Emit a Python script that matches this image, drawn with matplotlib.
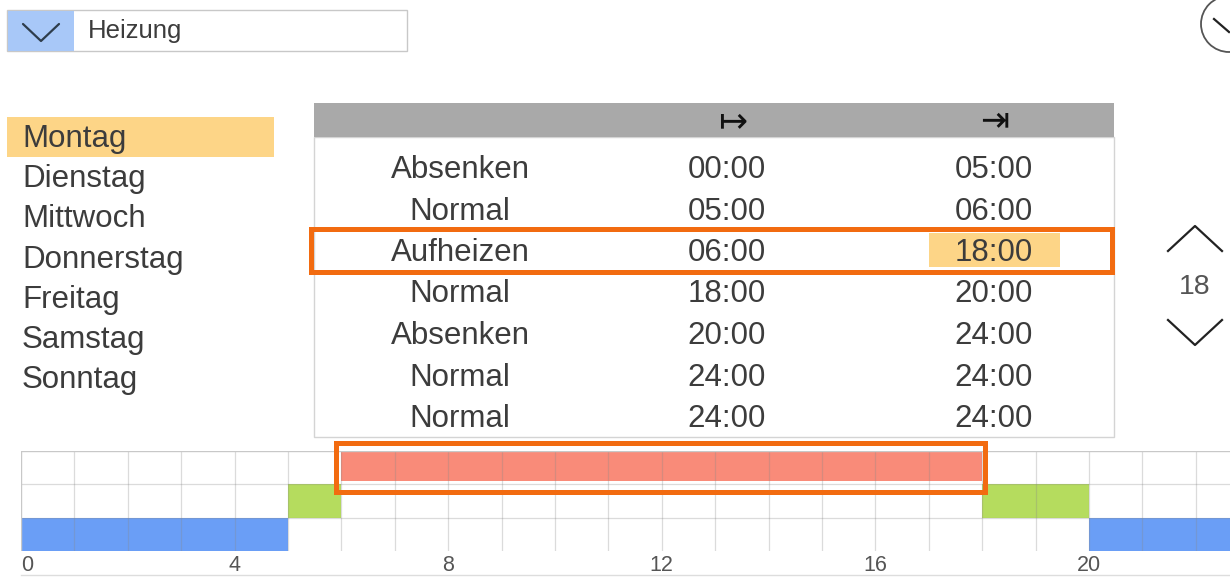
import matplotlib.pyplot as plt
from matplotlib.patches import Rectangle, Circle

# --- data ---
DAYS = ["Montag", "Dienstag", "Mittwoch", "Donnerstag", "Freitag", "Samstag", "Sonntag"]
SELECTED_DAY = 0

MODES = ["Absenken", "Normal", "Aufheizen", "Normal", "Absenken", "Normal", "Normal"]
STARTS = ["00:00", "05:00", "06:00", "18:00", "20:00", "24:00", "24:00"]
ENDS = ["05:00", "06:00", "18:00", "20:00", "24:00", "24:00", "24:00"]
SELECTED_ROW = 2

# timeline blocks: level (0 = Absenken, 1 = Normal, 2 = Aufheizen), start hour, end hour
BLOCK_LEVEL = [0, 1, 2, 1, 0]
BLOCK_START = [0, 5, 6, 18, 20]
BLOCK_END = [5, 6, 18, 20, 24]
LEVEL_COLORS = ["#6a9ef6", "#b5dc5e", "#f98b79"]

HOUR_TICKS = [0, 4, 8, 12, 16, 20]
SETPOINT = "18"
CIRCUIT = "Heizung"

TEXT = "#3c3c3c"
HILITE = "#fdd587"
ORANGE = "#f26b10"
FONT = ["Liberation Sans", "DejaVu Sans"]
plt.rcParams["font.family"] = FONT

W, H = 1230, 577
fig = plt.figure(figsize=(W / 100, H / 100), dpi=100)
ui = fig.add_axes([0, 0, 1, 1])
ui.set_xlim(0, W)
ui.set_ylim(H, 0)
ui.axis("off")

# dropdown
ui.add_patch(Rectangle((7, 10), 400, 41, fc="white", ec="#c8c8c8", lw=1))
ui.add_patch(Rectangle((7.5, 10.5), 66, 40, fc="#a8c8f8", ec="none"))
ui.plot([23, 41, 59], [24, 41, 24], color="#2e3d4c", lw=1.6, solid_capstyle="round")
ui.text(88, 38, CIRCUIT, fontsize=18.5, color=TEXT, va="baseline", ha="left")

# circle button top right (cut by the edge)
ui.add_patch(Circle((1229, 24), 28, fc="none", ec="#555555", lw=1.3))
ui.plot([1214, 1229], [19, 32], color="#222222", lw=1.6)

# day list
ui.add_patch(Rectangle((7, 117), 267, 40, fc=HILITE, ec="none"))
for i, d in enumerate(DAYS):
    ui.text(22, 147 + i * 40.2, d, fontsize=22.5, color=TEXT, va="baseline", ha="left")

# program table
ui.add_patch(Rectangle((314, 137), 800, 300, fc="white", ec="#d4d4d4", lw=1))
ui.add_patch(Rectangle((314, 103), 800, 34, fc="#a9a9a9", ec="none"))
ui.text(733, 121, "\u21a6", fontsize=25, color="#111111", ha="center", va="center",
        family=["DejaVu Sans"])
ui.text(995, 121, "\u21e5", fontsize=25, color="#111111", ha="center", va="center",
        family=["DejaVu Sans"])
row_y = [167 + i * 41.5 for i in range(len(MODES))]
ui.add_patch(Rectangle((929, row_y[SELECTED_ROW] - 17), 131, 34, fc=HILITE, ec="none"))
for y, m, s, e in zip(row_y, MODES, STARTS, ENDS):
    ui.text(460, y + 11, m, fontsize=22.5, color=TEXT, ha="center", va="baseline")
    ui.text(727, y + 11, s, fontsize=22.5, color=TEXT, ha="center", va="baseline")
    ui.text(994, y + 11, e, fontsize=22.5, color=TEXT, ha="center", va="baseline")
ui.add_patch(Rectangle((311, row_y[SELECTED_ROW] - 21), 801, 43, fc="none", ec=ORANGE, lw=3.6))

# setpoint spinner
ui.plot([1168, 1195, 1222], [251, 226, 251], color="#222222", lw=1.6)
ui.text(1195, 287, SETPOINT, fontsize=20.5, color="#555555", ha="center", va="center")
ui.plot([1168, 1195, 1222], [320, 345, 320], color="#222222", lw=1.6)

# timeline
x0, px_per_h = 21, 53.4
hours_visible = (W - x0) / px_per_h
ax = fig.add_axes([x0 / W, (H - 551) / H, (W - x0) / W, 100 / H])
ax.set_xlim(0, hours_visible)
ax.set_ylim(0, 3)
for lvl, s, e in zip(BLOCK_LEVEL, BLOCK_START, BLOCK_END):
    hgt = 0.9 if lvl == 2 else 1.0
    ax.barh(lvl + 1.0 - hgt if lvl == 2 else lvl, e - s, left=s, height=hgt,
            align="edge", color=LEVEL_COLORS[lvl], zorder=1)
for h in range(1, 24):
    ax.axvline(h, color="#888888", alpha=0.3, lw=0.9, zorder=2)
for r in (1, 2):
    ax.axhline(r, color="#888888", alpha=0.3, lw=0.9, zorder=2)
for sp in ax.spines.values():
    sp.set_visible(False)
ax.axhline(3, color="#c8c8c8", lw=1, zorder=2)
ax.axvline(0, color="#c8c8c8", lw=1, zorder=2)
ui.plot([x0, W], [575, 575], color="#dddddd", lw=1)

# selected block outline
sel = BLOCK_LEVEL.index(2)
ax.add_patch(Rectangle((BLOCK_START[sel] - 0.1, 1.78), BLOCK_END[sel] - BLOCK_START[sel] + 0.15, 1.45,
                       fc="none", ec=ORANGE, lw=3.6, clip_on=False, zorder=4))

ax.set_yticks([])
ax.set_xticks(HOUR_TICKS)
ax.set_xticklabels([str(h) for h in HOUR_TICKS], fontsize=15.5, color="#555555")
ax.tick_params(axis="x", length=0, pad=3)
ax.get_xticklabels()[0].set_horizontalalignment("left")

fig.savefig("out.png", dpi=100)
